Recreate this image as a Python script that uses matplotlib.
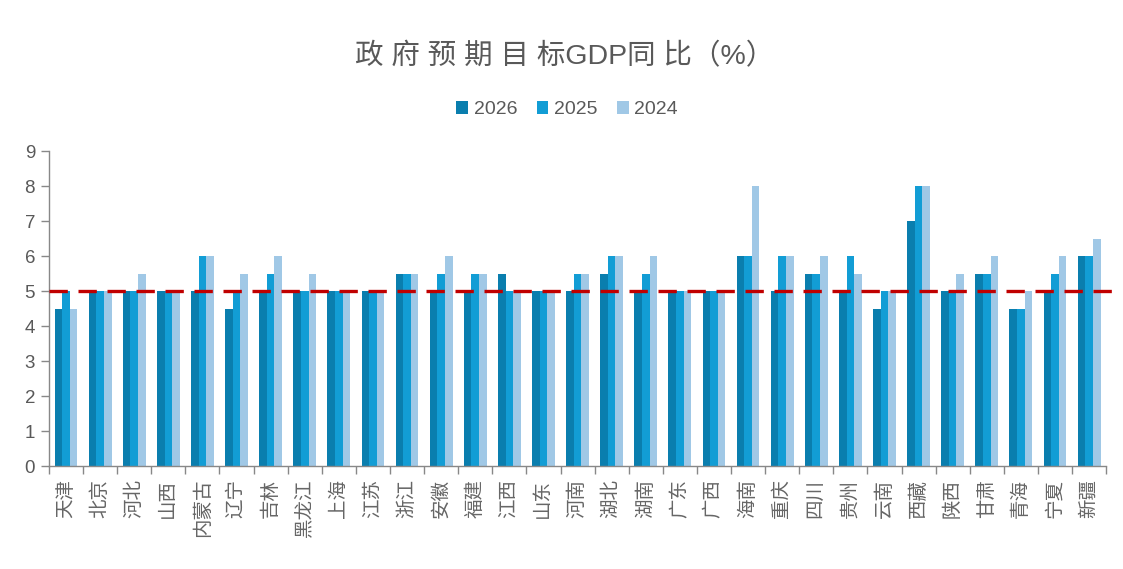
import numpy as np
import matplotlib
matplotlib.use("Agg")
import matplotlib.pyplot as plt

plt.rcParams['font.family'] = ['Liberation Sans', 'Noto Sans CJK SC', 'DejaVu Sans']

regions = ['天津', '北京', '河北', '山西', '内蒙古', '辽宁', '吉林', '黑龙江', '上海', '江苏',
           '浙江', '安徽', '福建', '江西', '山东', '河南', '湖北', '湖南', '广东', '广西',
           '海南', '重庆', '四川', '贵州', '云南', '西藏', '陕西', '甘肃', '青海', '宁夏', '新疆']
gdp_2026 = [4.5, 5, 5, 5, 5, 4.5, 5, 5, 5, 5,
            5.5, 5, 5, 5.5, 5, 5, 5.5, 5, 5, 5,
            6, 5, 5.5, 5, 4.5, 7, 5, 5.5, 4.5, 5, 6]
gdp_2025 = [5, 5, 5, 5, 6, 5, 5.5, 5, 5, 5,
            5.5, 5.5, 5.5, 5, 5, 5.5, 6, 5.5, 5, 5,
            6, 6, 5.5, 6, 5, 8, 5, 5.5, 4.5, 5.5, 6]
gdp_2024 = [4.5, 5, 5.5, 5, 6, 5.5, 6, 5.5, 5, 5,
            5.5, 6, 5.5, 5, 5, 5.5, 6, 6, 5, 5,
            8, 6, 6, 5.5, 5, 8, 5.5, 6, 5, 6, 6.5]
years = ['2026', '2025', '2024']
ref_line = 5

colors = ['#0a7eae', '#129dd5', '#a0c8e6']
gray = '#595959'

fig = plt.figure(figsize=(11.23, 5.69), dpi=100)
ax = fig.add_axes([0.0436, 0.181, 0.9414, 0.5536])

x = np.arange(len(regions))
w = 0.223
for k, vals in enumerate([gdp_2026, gdp_2025, gdp_2024]):
    ax.bar(x + (k - 1) * w, vals, width=w, color=colors[k], label=years[k], zorder=2)

# 5% reference line
ax.axhline(ref_line, xmin=0, xmax=1.007, color='#c00000', lw=2.4,
           dashes=(5.5, 3.2), zorder=3, clip_on=False)

ax.set_xlim(-0.5, len(regions) - 0.5)
ax.set_ylim(0, 9)
ax.set_yticks(range(10))
ax.tick_params(axis='y', labelsize=13.5, labelcolor=gray, color='#888888', length=6, width=1, pad=4)

ax.set_xticks(x)
ax.set_xticklabels(regions, rotation=90, fontsize=14, color='#666666', va='top')
ax.tick_params(axis='x', length=0, pad=9)
ax.set_xticks(np.arange(len(regions) + 1) - 0.5, minor=True)
ax.tick_params(axis='x', which='minor', length=6, color='#888888', width=1)

for s in ['top', 'right']:
    ax.spines[s].set_visible(False)
for s in ['left', 'bottom']:
    ax.spines[s].set_color('#888888')
    ax.spines[s].set_linewidth(1)

fig.text(0.503, 0.9, '政 府 预 期 目 标GDP同 比（%）', ha='center', va='center',
         fontsize=20.5, color=gray)

leg = fig.legend(loc='center', bbox_to_anchor=(0.505, 0.807), ncol=3, frameon=False,
                 fontsize=14, handlelength=0.6, handleheight=0.6, handletextpad=0.3,
                 columnspacing=1.0)
for t in leg.get_texts():
    t.set_color(gray)

plt.savefig('out.png', dpi=100)
